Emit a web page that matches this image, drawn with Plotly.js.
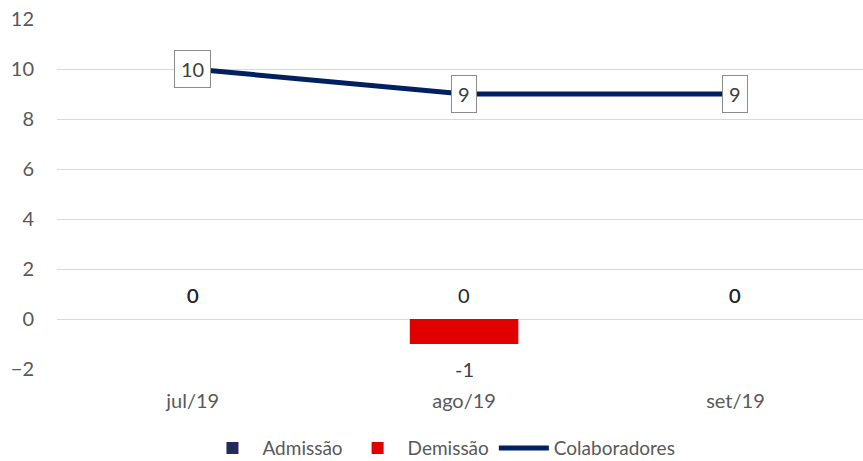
<!DOCTYPE html>
<html>
<head>
<meta charset="utf-8">
<script src="https://cdn.plot.ly/plotly-3.0.1.min.js"></script>
<style>html,body{margin:0;padding:0;background:#fff;}#chart{width:863px;height:461px;}</style>
</head>
<body>
<div id="chart"></div>
<script>
var categories = ["jul/19", "ago/19", "set/19"];
var admissao = [0, 0, 0];
var demissao = [0, -1, 0];
var colaboradores = [10, 9, 9];

var FONT = "Lato, 'Open Sans', sans-serif";

var traces = [
  {type: "bar", name: "Admissão", x: categories, y: admissao, width: 0.4,
   marker: {color: "#262a5b"}, hoverinfo: "skip"},
  {type: "bar", name: "Demissão", x: categories, y: demissao, width: 0.4,
   marker: {color: "#e00000"}, hoverinfo: "skip"},
  {type: "scatter", mode: "lines", name: "Colaboradores", x: categories, y: colaboradores,
   line: {color: "#002060", width: 5}, hoverinfo: "skip"}
];

var annotations = [];
categories.forEach(function (c, i) {
  annotations.push({x: c, y: colaboradores[i], text: String(colaboradores[i]), showarrow: false,
    xref: "x", yref: "y", bgcolor: "#ffffff", bordercolor: "#8c8c8c", borderwidth: 1, borderpad: 6,
    font: {family: FONT, size: 20, color: "#404040"}});
  annotations.push({x: c, y: admissao[i], text: String(admissao[i]), showarrow: false,
    xref: "x", yref: "y", yshift: 24, font: {family: FONT, size: 20, color: "#262626"}});
  if (demissao[i] < 0) {
    annotations.push({x: c, y: demissao[i], text: String(demissao[i]), showarrow: false,
      xref: "x", yref: "y", yshift: -25, font: {family: FONT, size: 20, color: "#404040"}});
  } else {
    annotations.push({x: c, y: demissao[i], text: String(demissao[i]), showarrow: false,
      xref: "x", yref: "y", yshift: 24, font: {family: FONT, size: 20, color: "#262626"}});
  }
});

var layout = {
  width: 863, height: 461,
  margin: {l: 57, r: 0, t: 19, b: 92, autoexpand: false},
  paper_bgcolor: "#ffffff", plot_bgcolor: "#ffffff",
  font: {family: FONT, size: 20, color: "#595959"},
  barmode: "overlay",
  showlegend: true,
  legend: {orientation: "h", x: 0.477, xanchor: "center", y: -0.226, yanchor: "middle",
    font: {family: FONT, size: 19, color: "#595959"}, traceorder: "normal", itemwidth: 50},
  xaxis: {type: "category", range: [-0.5, 2.47], showgrid: false, zeroline: false, showline: false,
    ticks: "outside", ticklen: 14, tickcolor: "rgba(0,0,0,0)",
    tickfont: {family: FONT, size: 20, color: "#595959"}},
  xaxis2: {overlaying: "x", anchor: "free", position: 2 / 14, range: [-0.5, 2.47],
    tickmode: "array", tickvals: [-0.5, 0.5, 1.5, 2.5], showticklabels: false,
    ticks: "outside", ticklen: 6, tickcolor: "#d9d9d9", tickwidth: 1,
    showline: false, showgrid: false, zeroline: false, side: "bottom"},
  yaxis: {range: [-2, 12], tickmode: "array", tickvals: [-2, 0, 2, 4, 6, 8, 10, 12],
    showgrid: true, gridcolor: "#d9d9d9", gridwidth: 1, zeroline: true, zerolinecolor: "#d9d9d9",
    zerolinewidth: 1, showline: false, ticks: "outside", ticklen: 18, tickcolor: "rgba(0,0,0,0)",
    tickfont: {family: FONT, size: 20, color: "#595959"}},
  annotations: annotations
};

Plotly.newPlot("chart", traces, layout, {staticPlot: true, displayModeBar: false});
</script>
</body>
</html>
